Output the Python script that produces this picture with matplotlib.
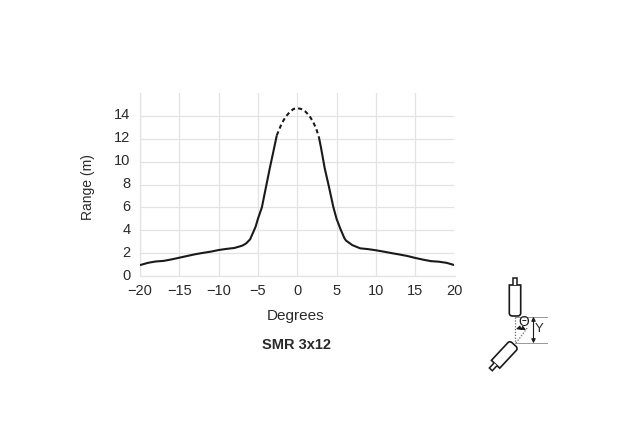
import numpy as np
import matplotlib.pyplot as plt
from matplotlib.patches import PathPatch, Polygon
from matplotlib.path import Path
from matplotlib.transforms import Affine2D, ScaledTranslation

plt.rcParams['font.family'] = ['Liberation Sans', 'DejaVu Sans']

W, H = 636, 437
TXT = '#2a2a2a'

# values
left_deg = [-20, -19, -18, -17, -16, -15, -14, -13, -12, -11, -10, -9, -8, -7, -6.5, -6, -5.3, -5, -4.5, -4, -3.5, -3, -2.6]
left_rng = [0.95, 1.15, 1.27, 1.32, 1.45, 1.6, 1.75, 1.9, 2.02, 2.13, 2.27, 2.37, 2.45, 2.65, 2.85, 3.2, 4.3, 5.0, 6.0, 7.7, 9.4, 11.0, 12.3]
top_deg = [-2.6, -2.3, -2, -1.5, -1, -0.5, 0, 0.5, 1, 1.5, 2, 2.4, 2.75]
top_rng = [12.3, 12.8, 13.3, 13.9, 14.3, 14.6, 14.68, 14.6, 14.4, 14.05, 13.5, 12.9, 12.15]
right_deg = [2.75, 3, 3.5, 4, 4.6, 5, 5.5, 6, 6.2, 7, 8, 9, 10, 11, 12, 13, 14, 15, 16, 17, 18, 19, 20]
right_rng = [12.15, 11.3, 9.4, 7.9, 6.0, 5.0, 4.1, 3.3, 3.1, 2.7, 2.42, 2.35, 2.25, 2.13, 2.0, 1.88, 1.75, 1.58, 1.43, 1.3, 1.25, 1.15, 0.95]
x_ticks = [-20, -15, -10, -5, 0, 5, 10, 15, 20]
x_labels = ['\u221220', '\u221215', '\u221210', '\u22125', '0', '5', '10', '15', '20']
y_ticks = [0, 2, 4, 6, 8, 10, 12, 14]

fig = plt.figure(figsize=(W / 100, H / 100), dpi=100)
ax = fig.add_axes([140 / W, 1 - 276 / H, 314.5 / W, 183 / H])

ax.plot(left_deg, left_rng, color='#1a1a1a', lw=1.5, solid_capstyle='butt', zorder=3)
ax.plot(right_deg, right_rng, color='#1a1a1a', lw=1.5, solid_capstyle='butt', zorder=3)
ax.plot(top_deg, top_rng, color='#1a1a1a', lw=1.5, dashes=(2.0, 1.5), zorder=3)

ax.set_xlim(-20, 20)
ax.set_ylim(0, 16)
ax.set_xticks(x_ticks)
ax.set_xticklabels(x_labels)
ax.set_yticks(y_ticks)
ax.grid(color='#e3e3e3', lw=0.9)
ax.set_axisbelow(True)
ax.tick_params(axis='x', length=0, labelsize=10.5, colors=TXT, pad=6)
ax.tick_params(axis='y', length=0, labelsize=10.5, colors=TXT, pad=7)
# y labels sit a little above their gridlines
up = ScaledTranslation(0, 2 / 100, fig.dpi_scale_trans)
for lab in ax.get_yticklabels():
    lab.set_transform(lab.get_transform() + up)
for s in ['top', 'right']:
    ax.spines[s].set_visible(False)
for s in ['left', 'bottom']:
    ax.spines[s].set_color('#e3e3e3')
    ax.spines[s].set_linewidth(0.9)

fig.text(296 / W, 1 - 316 / H, 'Degrees', fontsize=11, color=TXT, ha='center', va='center')
fig.text(88 / W, 1 - 187.5 / H, 'Range (m)', fontsize=10, color=TXT, ha='center', va='center', rotation=90)
fig.text(296 / W, 1 - 345 / H, 'SMR 3x12', fontsize=10.5, fontweight='bold',
         color=TXT, ha='center', va='center')

# sensor icon, drawn in pixel coordinates
ic = fig.add_axes([0, 0, 1, 1], facecolor='none')
ic.set_xlim(0, W)
ic.set_ylim(H, 0)
ic.axis('off')


def sensor(cx, cy, angle, length):
    # body points down from the connector, (cx, cy) is the rounded tip
    tr = Affine2D().rotate_deg(angle).translate(cx, cy) + ic.transData
    verts = [(-5.7, -length), (5.7, -length), (5.7, -3), (5.7, 0), (2.5, 0), (-2.5, 0), (-5.7, 0), (-5.7, -3), (-5.7, -length)]
    codes = [Path.MOVETO, Path.LINETO, Path.LINETO, Path.CURVE3, Path.CURVE3, Path.LINETO, Path.CURVE3, Path.CURVE3, Path.CLOSEPOLY]
    ic.add_patch(PathPatch(Path(verts, codes), fc='white', ec='#1a1a1a', lw=1.2, transform=tr, zorder=4))
    ic.add_patch(Polygon([(-2, -length), (-2, -length - 7), (2, -length - 7), (2, -length)], closed=False,
                         fc='white', ec='#1a1a1a', lw=1.1, transform=tr, zorder=4))


sensor(515, 316, 0, 31)
sensor(514, 344.5, -137, 27)

ic.plot([515, 515], [317, 343], color='#666666', lw=0.9, ls=(0, (1, 1.3)))
ic.plot([516, 528], [343, 327], color='#666666', lw=0.9, ls=(0, (1, 1.3)))
ic.plot([515, 547], [316.7, 316.7], color='#999999', lw=0.7)
ic.plot([515, 547], [343.3, 343.3], color='#999999', lw=0.7)
ic.annotate('', xy=(533.5, 316.7), xytext=(533.5, 343.3),
            arrowprops=dict(arrowstyle='<|-|>', color='#1a1a1a', lw=0.8, mutation_scale=6, shrinkA=0, shrinkB=0))
ic.annotate('', xy=(516, 329), xytext=(526, 330),
            arrowprops=dict(arrowstyle='<|-|>', color='#1a1a1a', lw=0.8, mutation_scale=6, shrinkA=0, shrinkB=0,
                            connectionstyle='arc3,rad=0.2'))
ic.text(523.5, 322.5, '\u0398', fontsize=10, color='#1a1a1a', ha='center', va='center')
ic.text(539.5, 329, 'Y', fontsize=9.5, color=TXT, ha='center', va='center')

fig.savefig('out.png', dpi=100)
